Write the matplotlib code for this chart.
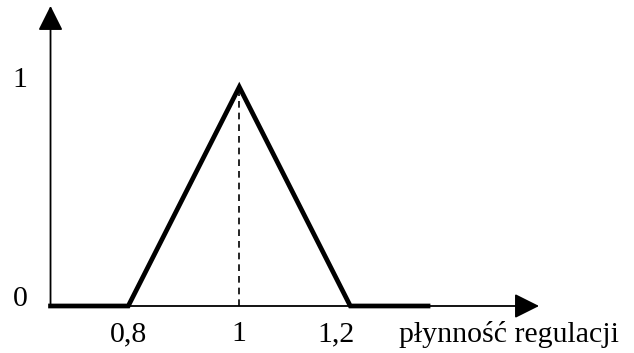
import matplotlib.pyplot as plt

# membership function of "płynność regulacji"
mf_x = [0.66, 0.8, 1.0, 1.2, 1.34]
mf_y = [0, 0, 1, 0, 0]
peak_x = 1.0
x_ticks = [0.8, 1.0, 1.2]
x_tick_labels = ['0,8', '1', '1,2']
y_ticks = [0, 1]
y_tick_labels = ['0', '1']
x_label = 'płynność regulacji'

plt.rcParams['font.family'] = ['Liberation Serif', 'DejaVu Serif']

fig = plt.figure(figsize=(6.34, 3.53), dpi=100)
ax = fig.add_axes([0, 0, 1, 1])
ax.set_xlim(0.569, 1.711)
ax.set_ylim(-0.2146, 1.397)
ax.axis('off')

x0 = mf_x[0]
# axes with arrow heads
ax.annotate('', xy=(1.54, 0), xytext=(x0, 0),
            arrowprops=dict(arrowstyle='-|>', color='k', lw=1.3,
                            mutation_scale=38, shrinkA=0, shrinkB=0))
ax.annotate('', xy=(x0, 1.37), xytext=(x0, 0),
            arrowprops=dict(arrowstyle='-|>', color='k', lw=1.3,
                            mutation_scale=38, shrinkA=0, shrinkB=0))

ax.plot(mf_x, mf_y, color='k', lw=3.4, solid_joinstyle='miter')
ax.plot([peak_x, peak_x], [0, 1], color='k', lw=1.2, ls=(0, (4, 3)))

for xt, lab in zip(x_ticks, x_tick_labels):
    ax.text(xt - (0.025 if lab == '1,2' else 0), -0.13, lab,
            ha='center', va='center', fontsize=21.5)
for yt, lab in zip(y_ticks, y_tick_labels):
    ax.text(0.605, yt + 0.03, lab, ha='center', va='center', fontsize=21.5)
ax.text(1.4865, -0.13, x_label, ha='center', va='center', fontsize=21.5)

fig.savefig('out.png', dpi=100, facecolor='white')
